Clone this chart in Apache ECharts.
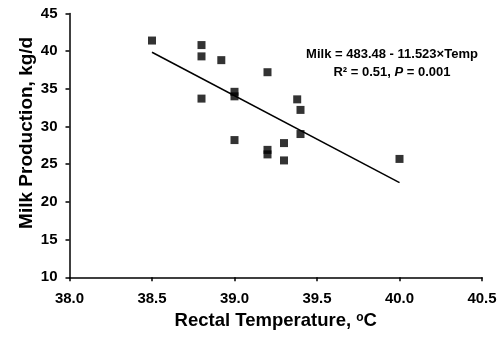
<!DOCTYPE html>
<html>
<head>
<meta charset="utf-8">
<script src="https://cdn.jsdelivr.net/npm/echarts@6/dist/echarts.min.js"></script>
<style>html,body{margin:0;padding:0;background:#fff}#c{width:504px;height:339px}</style>
</head>
<body>
<div id="c"></div>
<script>
// Observed data: rectal temperature (°C) and milk production (kg/d)
const tempC = [38.5, 38.8, 38.8, 38.92, 38.8, 39.0, 39.0, 39.0, 39.2, 39.2, 39.2, 39.3, 39.3, 39.38, 39.4, 39.4, 40.0];
const milkKg = [41.4, 40.8, 39.3, 38.8, 33.7, 34.6, 34.0, 28.2, 37.2, 26.9, 26.3, 27.8, 25.5, 33.6, 32.2, 29.0, 25.7];
// Regression line endpoints (Milk = 483.48 - 11.523×Temp)
const fitX = [38.5, 40.0];
const fitY = [39.85, 22.56];
// Axis ticks
const xTicks = [38.0, 38.5, 39.0, 39.5, 40.0, 40.5];
const yTicks = [10, 15, 20, 25, 30, 35, 40, 45];

const font = 'Arial, "Liberation Sans", sans-serif';
const chart = echarts.init(document.getElementById('c'), null, {renderer: 'canvas'});
chart.setOption({
  animation: false,
  backgroundColor: '#fff',
  grid: {left: 69.5, right: 22, top: 13.4, bottom: 61.7, containLabel: false},
  xAxis: {
    type: 'value', min: xTicks[0], max: xTicks[xTicks.length - 1], interval: 0.5,
    splitLine: {show: false},
    axisLine: {onZero: false, lineStyle: {color: '#000', width: 1.5}},
    axisTick: {show: true, length: 4, lineStyle: {color: '#000', width: 1.5}},
    axisLabel: {color: '#000', fontFamily: font, fontWeight: 'bold', fontSize: 15, margin: 14,
      formatter: v => v.toFixed(1)},
    name: '{a|Rectal Temperature, }{s|o}{a|C}', nameLocation: 'middle', nameGap: 34,
    nameMoveOverlap: false,
    nameTextStyle: {rich: {
      a: {fontFamily: font, fontWeight: 'bold', fontSize: 18.5, color: '#000'},
      s: {fontFamily: font, fontWeight: 'bold', fontSize: 12, color: '#000', verticalAlign: 'top', padding: [0, 0, 8, 0]}
    }}
  },
  yAxis: {
    type: 'value', min: yTicks[0], max: yTicks[yTicks.length - 1], interval: 5,
    splitLine: {show: false},
    axisLine: {onZero: false, lineStyle: {color: '#000', width: 1.5}},
    axisTick: {show: true, length: 4, lineStyle: {color: '#000', width: 1.5}},
    axisLabel: {color: '#000', fontFamily: font, fontWeight: 'bold', fontSize: 15, margin: 12},
    name: 'Milk Production, kg/d', nameLocation: 'middle', nameGap: 33,
    nameMoveOverlap: false,
    nameTextStyle: {fontFamily: font, fontWeight: 'bold', fontSize: 19, color: '#000', padding: [0, 0, 0, 25]}
  },
  graphic: [{
    type: 'text', x: 392, y: 45,
    style: {
      text: '{b|Milk = 483.48 - 11.523×Temp}\n{b|R² = 0.51, }{i|P}{b| = 0.001}',
      align: 'center',
      rich: {
        b: {fontFamily: font, fontWeight: 'bold', fontSize: 13, fill: '#000', lineHeight: 18},
        i: {fontFamily: font, fontWeight: 'bold', fontStyle: 'italic', fontSize: 13, fill: '#000', lineHeight: 18}
      },
      fill: '#000'
    }
  }],
  series: [{
    type: 'scatter', symbol: 'rect', symbolSize: 8,
    itemStyle: {color: '#000'},
    data: tempC.map((t, i) => [t, milkKg[i]])
  }, {
    type: 'line', symbol: 'none', silent: true,
    lineStyle: {color: '#000', width: 1.5},
    data: fitX.map((x, i) => [x, fitY[i]])
  }]
});
</script>
</body>
</html>
